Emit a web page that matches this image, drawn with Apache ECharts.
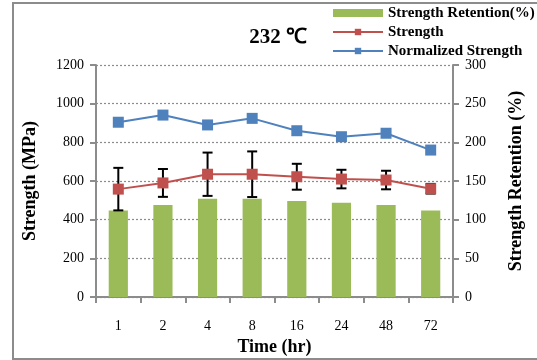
<!DOCTYPE html>
<html>
<head>
<meta charset="utf-8">
<script src="https://cdn.jsdelivr.net/npm/echarts@6/dist/echarts.min.js"></script>
<style>
  html, body { margin: 0; padding: 0; background: #fff; }
  #chart { width: 537px; height: 360px; }
</style>
</head>
<body>
<div id="chart"></div>
<script>
// Exposure time categories (hours)
var timeCategories = ['1', '2', '4', '8', '16', '24', '48', '72'];

// Strength retention (%), right axis
var retentionValues = [112, 119, 127, 127, 124, 122, 119, 112];

// Mean strength (MPa) and its standard deviation
var strengthValues = [558, 590, 635, 635, 622, 610, 605, 560];
var strengthErrors = [110, 72, 112, 118, 67, 48, 48, 25];

// Normalized strength (MPa)
var normalizedValues = [904, 941, 890, 924, 860, 829, 847, 760];

// Axis tick ranges
var leftAxisMax = 1200, leftAxisStep = 200;
var rightAxisMax = 300, rightAxisStep = 50;

var serif = '"Liberation Serif", "Times New Roman", serif';

var errorData = strengthValues.map(function (v, i) {
  return [i, v - strengthErrors[i], v + strengthErrors[i]];
});

function plainNumber(v) { return String(v); }

var chart = echarts.init(document.getElementById('chart'), null, { renderer: 'canvas' });

chart.setOption({
  backgroundColor: '#fff',
  animation: false,
  textStyle: { fontFamily: serif },
  title: {
    text: '232 \u2103',
    left: 273,
    textAlign: 'center',
    top: 22,
    textStyle: { fontFamily: serif, fontWeight: 'bold', fontSize: 21, color: '#000' }
  },
  legend: {
    orient: 'vertical',
    left: 332,
    top: 5,
    padding: 0,
    itemWidth: 50,
    itemHeight: 8,
    itemGap: 3,
    textStyle: { fontFamily: serif, fontWeight: 'bold', fontSize: 15, lineHeight: 16, color: '#000' },
    data: [
      { name: 'Strength Retention(%)', icon: 'rect' },
      { name: 'Strength' },
      { name: 'Normalized Strength' }
    ]
  },
  graphic: [{
    type: 'rect',
    shape: { x: 13, y: 3, width: 540, height: 356 },
    style: { fill: 'none', stroke: '#8c8c8c', lineWidth: 2 },
    silent: true,
    z: -10
  }],
  grid: { left: 96, right: 84, top: 65, bottom: 63, outerBoundsMode: 'none', containLabel: false },
  xAxis: {
    type: 'category',
    data: timeCategories,
    boundaryGap: true,
    name: 'Time (hr)',
    nameLocation: 'middle',
    nameGap: 38,
    nameTextStyle: { fontFamily: serif, fontWeight: 'bold', fontSize: 18, color: '#000' },
    axisLine: { lineStyle: { color: '#8c8c8c', width: 2 } },
    axisTick: { show: true, alignWithLabel: false, inside: false, length: 6, lineStyle: { color: '#8c8c8c', width: 2 } },
    axisLabel: { fontFamily: serif, fontSize: 14, color: '#000', margin: 22 }
  },
  yAxis: [{
    type: 'value',
    min: 0,
    max: leftAxisMax,
    interval: leftAxisStep,
    name: 'Strength (MPa)',
    nameLocation: 'middle',
    nameGap: 57,
    nameTextStyle: { fontFamily: serif, fontWeight: 'bold', fontSize: 18, color: '#000' },
    axisLine: { show: true, lineStyle: { color: '#8c8c8c', width: 2 } },
    axisTick: { show: true, length: 6, lineStyle: { color: '#8c8c8c', width: 2 } },
    axisLabel: { fontFamily: serif, fontSize: 14, color: '#000', margin: 12, formatter: plainNumber },
    splitLine: { show: true, lineStyle: { color: '#8c8c8c', type: [2, 2], width: 1.2 } }
  }, {
    type: 'value',
    min: 0,
    max: rightAxisMax,
    interval: rightAxisStep,
    position: 'right',
    name: 'Strength Retention (%)',
    nameLocation: 'middle',
    nameGap: 54,
    nameRotate: 90,
    nameTextStyle: { fontFamily: serif, fontWeight: 'bold', fontSize: 18, color: '#000' },
    axisLine: { show: true, lineStyle: { color: '#8c8c8c', width: 2 } },
    axisTick: { show: true, length: 6, lineStyle: { color: '#8c8c8c', width: 2 } },
    axisLabel: { fontFamily: serif, fontSize: 14, color: '#000', margin: 12, formatter: plainNumber },
    splitLine: { show: false }
  }],
  series: [{
    name: 'Strength Retention(%)',
    type: 'bar',
    yAxisIndex: 1,
    data: retentionValues,
    barWidth: '43%',
    itemStyle: { color: '#9bbb59' },
    z: 1
  }, {
    name: 'Strength error',
    type: 'custom',
    yAxisIndex: 0,
    data: errorData,
    z: 2,
    silent: true,
    renderItem: function (params, api) {
      var x = api.value(0);
      var lo = api.coord([x, api.value(1)]);
      var hi = api.coord([x, api.value(2)]);
      var cap = 5;
      var style = { stroke: '#000', lineWidth: 2 };
      return {
        type: 'group',
        children: [
          { type: 'line', shape: { x1: lo[0], y1: lo[1], x2: hi[0], y2: hi[1] }, style: style },
          { type: 'line', shape: { x1: hi[0] - cap, y1: hi[1], x2: hi[0] + cap, y2: hi[1] }, style: style },
          { type: 'line', shape: { x1: lo[0] - cap, y1: lo[1], x2: lo[0] + cap, y2: lo[1] }, style: style }
        ]
      };
    }
  }, {
    name: 'Strength',
    type: 'line',
    yAxisIndex: 0,
    data: strengthValues,
    symbol: 'rect',
    symbolSize: 11,
    itemStyle: { color: '#c0504d' },
    lineStyle: { color: '#c0504d', width: 2 },
    z: 3
  }, {
    name: 'Normalized Strength',
    type: 'line',
    yAxisIndex: 0,
    data: normalizedValues,
    symbol: 'rect',
    symbolSize: 11,
    itemStyle: { color: '#4f81bd' },
    lineStyle: { color: '#4f81bd', width: 2 },
    z: 3
  }]
});
</script>
</body>
</html>
